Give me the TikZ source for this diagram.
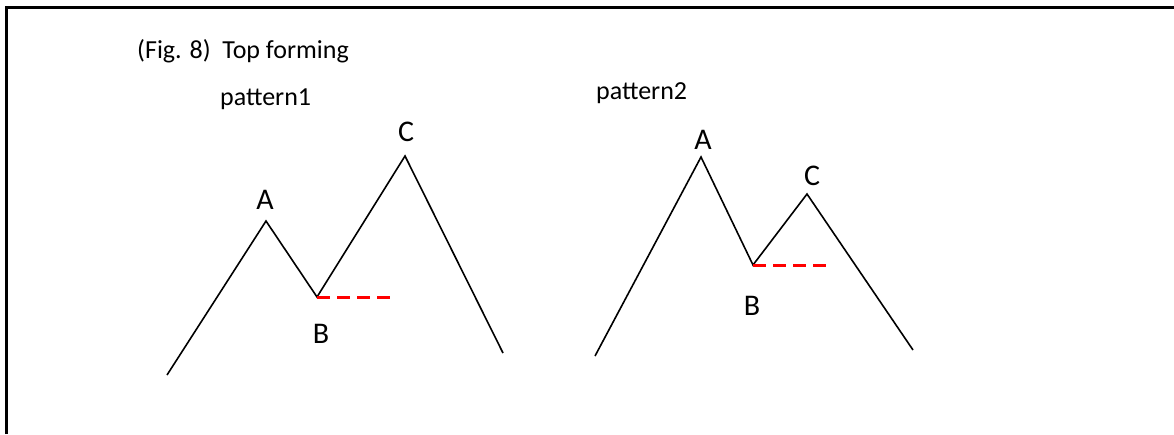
\documentclass[tikz,border=0pt]{standalone}
\usepackage{fontspec}
\setmainfont{Carlito}
\begin{document}
\begin{tikzpicture}[x=1pt,y=-1pt,
  zig/.style={line width=1.6pt,line join=miter},
  lvl/.style={red,line width=3pt,dash pattern=on 13pt off 7pt},
  lbl/.style={font=\fontsize{30}{30}\selectfont,inner sep=0pt},
  txt/.style={font=\fontsize{26}{26}\selectfont,inner sep=0pt,anchor=base west}]
\useasboundingbox (0,0) rectangle (1174,434);
\draw[line width=3pt] (6.5,434) -- (6.5,7.5) -- (1174,7.5);
\node[txt] (title) at (137,58) {(Fig. 8)\ \ Top forming};
\node[txt] (p1) at (220,105) {pattern1};
\node[txt] (p2) at (596,99) {pattern2};
% pattern 1
\coordinate (s1) at (167,375);
\coordinate (a1) at (266,221);
\coordinate (b1) at (317,297);
\coordinate (c1) at (405,156);
\coordinate (e1) at (503,353);
\coordinate (d1) at (391,297);
\draw[zig] (s1) -- (a1) -- (b1) -- (c1) -- (e1);
\draw[lvl] (b1) -- (d1);
\node[lbl] (la1) at (265,200) {A};
\node[lbl] (lb1) at (321,334) {B};
\node[lbl] (lc1) at (406,132) {C};
% pattern 2
\coordinate (s2) at (595,356);
\coordinate (a2) at (701,157);
\coordinate (b2) at (753,265);
\coordinate (c2) at (807,194);
\coordinate (e2) at (913,350);
\coordinate (d2) at (827,265);
\draw[zig] (s2) -- (a2) -- (b2) -- (c2) -- (e2);
\draw[lvl] (b2) -- (d2);
\node[lbl] (la2) at (703,140) {A};
\node[lbl] (lb2) at (752,306) {B};
\node[lbl] (lc2) at (812,176) {C};
\end{tikzpicture}
\end{document}
